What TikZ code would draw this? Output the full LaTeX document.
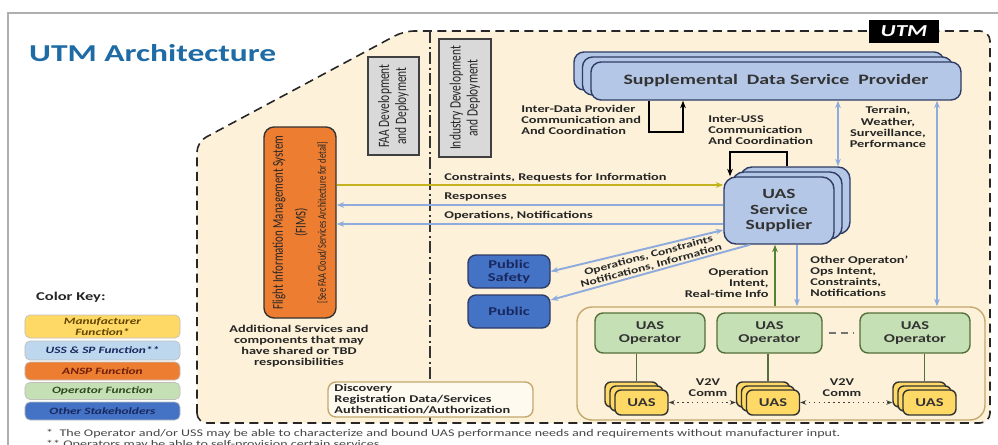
\documentclass[tikz,border=0pt]{standalone}
\usepackage{fontspec}
\setmainfont{Carlito}[FakeStretch=1.38]
\newfontfamily\rotfont{Carlito}[FakeStretch=0.725]
\usepackage{tikz}
\usetikzlibrary{positioning, arrows.meta, calc}
\definecolor{utmcream}{RGB}{253,242,217}
\definecolor{utmtitle}{RGB}{31,107,165}
\definecolor{ussblue}{RGB}{180,199,231}
\definecolor{ussline}{RGB}{47,60,100}
\definecolor{pubblue}{RGB}{68,114,196}
\definecolor{pubtext}{RGB}{25,40,95}
\definecolor{ansporange}{RGB}{237,125,49}
\definecolor{opgreen}{RGB}{197,224,180}
\definecolor{opline}{RGB}{84,110,60}
\definecolor{uasyellow}{RGB}{255,217,102}
\definecolor{grouptan}{RGB}{196,168,110}
\definecolor{flowblue}{RGB}{143,170,220}
\definecolor{flowgold}{RGB}{196,178,30}
\definecolor{flowgreen}{RGB}{84,130,53}
\definecolor{keyblue}{RGB}{189,215,238}
\definecolor{keybrown}{RGB}{100,70,0}
\definecolor{keyred}{RGB}{110,30,10}
\definecolor{keygreen}{RGB}{45,75,30}
\definecolor{boxgray}{RGB}{217,217,217}
\definecolor{framegray}{RGB}{175,175,175}
\definecolor{notegray}{RGB}{70,70,70}

\begin{document}
\begin{tikzpicture}[x=0.2mm, y=-0.2mm,
    lbl/.style={font=\fontsize{5.9}{6.3}\selectfont\bfseries, text=black!85, inner sep=0pt},
    devbox/.style={draw=black!75, thick, fill=boxgray, inner sep=0pt},
    rottext/.style={rotate=90, align=center, inner sep=0pt, text=black!85},
    ussbox/.style={draw=ussline, thick, fill=ussblue, rounded corners=2mm, inner sep=0pt},
    pubbox/.style={draw=ussline, thick, fill=pubblue, rounded corners=1.6mm, minimum width=16.4mm,
      minimum height=6.6mm, inner sep=0pt, align=center, text=pubtext, font=\fontsize{6.8}{7.2}\selectfont\bfseries},
    opbox/.style={draw=opline, thick, fill=opgreen, rounded corners=1.6mm, minimum height=8mm, inner sep=0pt,
      align=center, text=black!80, font=\fontsize{6.8}{7.6}\selectfont\bfseries},
    uasbox/.style={draw=black!80, thick, fill=uasyellow, rounded corners=1.2mm, minimum width=10.6mm,
      minimum height=5mm, inner sep=0pt, font=\fontsize{6.8}{7}\selectfont\bfseries, text=black!80},
    keybox/.style={draw=black!25, fill=#1, rounded corners=1mm, minimum width=31mm, inner sep=0pt,
      align=center, font=\fontsize{5.5}{6}\selectfont\bfseries\itshape},
    flow/.style={flowblue, line width=1.1pt, -{Stealth[length=1.5mm]}},
    bothflow/.style={flowblue, line width=1.1pt, {Stealth[length=1.5mm]}-{Stealth[length=1.5mm]}},
    goldflow/.style={flowgold, line width=1.1pt, -{Stealth[length=1.5mm]}},
    loopline/.style={black, line width=1.3pt, -{Stealth[length=1.5mm]}},
    v2v/.style={black!75, thick, dotted, {Stealth[length=1.2mm]}-{Stealth[length=1.2mm]}}
  ]
  % cadre
  \useasboundingbox (0,0) rectangle (998,445);
  \fill[white] (0,0) rectangle (998,445);
  \clip (0,0) rectangle (998,445);
  \draw[framegray, line width=0.8pt] (8,470) -- (8,13) -- (1010,13);
  \node[anchor=west, font=\fontsize{13.8}{14}\selectfont\bfseries, text=utmtitle] (title) at (23,53) {UTM Architecture};

  % zone utm
  \draw[black!85, line width=0.9pt, dash pattern=on 1.8mm off 1.1mm, fill=utmcream, rounded corners=2mm]
    (197,423) -- (197,142) -- (404,31) -- (990,31) -- (990,423) -- cycle;
  \node[fill=black, text=white, font=\fontsize{9.5}{10}\selectfont\bfseries\itshape, minimum width=14mm,
    minimum height=4.6mm, inner sep=0pt] (utm) at (904,31.5) {UTM};
  \draw[black!80, line width=0.9pt, dash pattern=on 2.4mm off 0.7mm on 0.4mm off 0.7mm] (430,31) -- (430,423);

  % developpement
  \node[devbox, minimum width=10.2mm, minimum height=19.6mm] (faa) at (393.5,106) {};
  \node[rottext, font=\rotfont\fontsize{9}{9.7}\selectfont] (faatxt) at (faa) {FAA Development\\and Deployment};
  \node[devbox, minimum width=10.4mm, minimum height=23.6mm] (ind) at (465,98) {};
  \node[rottext, font=\rotfont\fontsize{9}{9.7}\selectfont] (indtxt) at (ind) {Industry Development\\and Deployment};

  % fims
  \node[draw=black!80, thick, fill=ansporange, rounded corners=2mm, minimum width=14.4mm, minimum height=38.2mm,
    inner sep=0pt] (fims) at (300,222.5) {};
  \node[rottext, font=\rotfont\fontsize{8.5}{13}\selectfont] (fimstxt) at (fims)
    {Flight Information Management System\\(FIMS)\\[-1.5pt]\fontsize{6.6}{9}\selectfont [See FAA Cloud/Services Architecture for detail]};
  \node[lbl, align=center] (addl) at (299,346) {Additional Services and\\components that may\\have shared or TBD\\responsibilities};
  \node[draw=grouptan, thick, fill=utmcream!40!white, rounded corners=1.6mm, minimum width=41mm, minimum height=7mm,
    text width=38.4mm, align=left, lbl] (disc) at (430.5,399.5) {Discovery\\Registration Data/Services\\Authentication/Authorization};

  % fournisseurs
  \node[ussbox, minimum width=74mm, minimum height=7.6mm] (sdspc) at (759,71) {};
  \node[ussbox, minimum width=74mm, minimum height=7.6mm] (sdspb) at (767.5,76) {};
  \node[ussbox, minimum width=74mm, minimum height=7.6mm, font=\fontsize{8.2}{9}\selectfont\bfseries, text=black!80]
    (sdsp) at (776,81) {Supplemental\ \ Data Service\ \ Provider};
  \node[ussbox, rounded corners=2.4mm, minimum width=22mm, minimum height=13.4mm] (ussc) at (795,200.5) {};
  \node[ussbox, rounded corners=2.4mm, minimum width=22mm, minimum height=13.4mm] (ussb) at (787,205.5) {};
  \node[ussbox, rounded corners=2.4mm, minimum width=22mm, minimum height=13.4mm, align=center,
    font=\fontsize{8}{8.6}\selectfont\bfseries, text=black!80] (uss) at (779,210.5) {UAS\\Service\\Supplier};

  % public
  \node[pubbox] (ps) at (509,271.5) {Public\\Safety};
  \node[pubbox] (pub) at (509,311.5) {Public};

  % operateurs
  \node[draw=grouptan, line width=0.8pt, fill=utmcream, rounded corners=3mm, minimum width=81.6mm,
    minimum height=22.6mm] (ops) at (781,363.5) {};
  \node[opbox, minimum width=22mm] (op1) at (650,333) {UAS\\Operator};
  \node[opbox, minimum width=21mm] (op2) at (769.5,333) {UAS\\Operator};
  \node[opbox, minimum width=22mm] (op3) at (915,333) {UAS\\Operator};
  \draw[black!55, line width=0.9pt, dash pattern=on 1.4mm off 1mm, shorten <=1.2mm, shorten >=1.2mm] (op2) -- (op3);
  \foreach \n/\x in {1/641.5, 2/773, 3/929.5} {
    \node[uasbox] (uasc\n) at (\x-10,394.5) {};
    \node[uasbox] (uasb\n) at (\x-5,398.5) {};
    \node[uasbox] (uas\n) at (\x,402.5) {UAS};
    \draw[opline, line width=1pt] (op\n.south -| uasb\n.north) -- (uasb\n.north |- uasc\n.north);
  }
  \draw[v2v] (uas1.east) -- (uasc2.west |- uas1.east);
  \draw[v2v] (uas2.east) -- (uasc3.west |- uas2.east);
  \node[lbl, align=center] (v2va) at (708,388) {V2V\\Comm};
  \node[lbl, align=center] (v2vb) at (842,388) {V2V\\Comm};

  % boucles de coordination
  \draw[loopline] (sdsp.south -| 649,0) -- (649,132) -- (683,132) -- (sdsp.south -| 683,0);
  \draw[loopline] (ussc.north -| 787,0) -- (787,152) -- (730,152) -- (uss.north -| 730,0);
  \node[lbl, anchor=north west, align=left] (idplbl) at (521,105) {Inter-Data Provider\\Communication and\\And Coordination};
  \node[lbl, anchor=north west, align=left] (iusslbl) at (708,115) {Inter-USS\\Communication\\And Coordination};

  % flux
  \draw[bothflow] (sdsp.south -| 838,0) -- (ussc.north -| 838,0);
  \draw[bothflow] (sdsp.south -| 937,0) -- (ops.north -| 937,0);
  \node[lbl, align=center] (terrlbl) at (888,127) {Terrain,\\Weather,\\Surveillance,\\Performance};
  \draw[goldflow] (fims.east |- 0,185) -- (uss.west |- 0,185);
  \draw[flow] (uss.west |- 0,205) -- (fims.east |- 0,205);
  \draw[flow] (uss.west |- 0,224) -- (fims.east |- 0,224);
  \node[lbl, anchor=west] (crlbl) at (444,178) {Constraints, Requests for Information};
  \node[lbl, anchor=west] (resplbl) at (444,196.5) {Responses};
  \node[lbl, anchor=west] (onlbl) at (444,216) {Operations, Notifications};
  \draw[bothflow] (uss.west |- 0,230) -- (ps.east);
  \draw[flow] (uss.south -| 750,0) -- (pub.east |- 0,300);
  \node[lbl, rotate=15, align=center, font=\fontsize{5.6}{6}\selectfont\bfseries] (onilbl) at (650,261)
    {Operations, Constraints\\Notifications, Information};
  \draw[flowgreen, line width=1.1pt, -{Stealth[length=1.5mm]}] (ops.north -| 775,0) -- (uss.south -| 775,0);
  \draw[flow] (uss.south -| 797,0) -- (ops.north -| 797,0);
  \node[lbl, anchor=east, align=right] (oilbl) at (769,283) {Operation\\Intent,\\Real-time Info};
  \node[lbl, anchor=west, align=left] (oolbl) at (810,276) {Other Operaton'\\Ops Intent,\\Constraints,\\Notifications};

  % legende
  \node[anchor=west, font=\fontsize{6.8}{7}\selectfont\bfseries, text=black!85] (keytitle) at (30,297) {Color Key:};
  \node[keybox=uasyellow, minimum height=4.6mm, text=keybrown] (kman) at (102.5,326.5) {Manufacturer\\Function*};
  \node[keybox=keyblue, minimum height=3.8mm, text=pubtext] (kuss) at (102.5,350.5) {USS \& SP Function**};
  \node[keybox=ansporange, minimum height=3.6mm, text=keyred] (kansp) at (102.5,371) {ANSP Function};
  \node[keybox=opgreen, minimum height=3.4mm, text=keygreen] (kop) at (102.5,391) {Operator Function};
  \node[keybox=pubblue, minimum height=3.6mm, text=pubtext] (koth) at (102.5,411) {Other Stakeholders};

  % notes
  \node[anchor=west, font=\fontsize{5.8}{6}\selectfont, text=notegray] (note1) at (40,434)
    {*\ \ The Operator and/or USS may be able to characterize and bound UAS performance needs and requirements without manufacturer input.};
  \node[anchor=west, font=\fontsize{5.8}{6}\selectfont, text=notegray] (note2) at (40,445)
    {** Operators may be able to self-provision certain services.};
\end{tikzpicture}
\end{document}
